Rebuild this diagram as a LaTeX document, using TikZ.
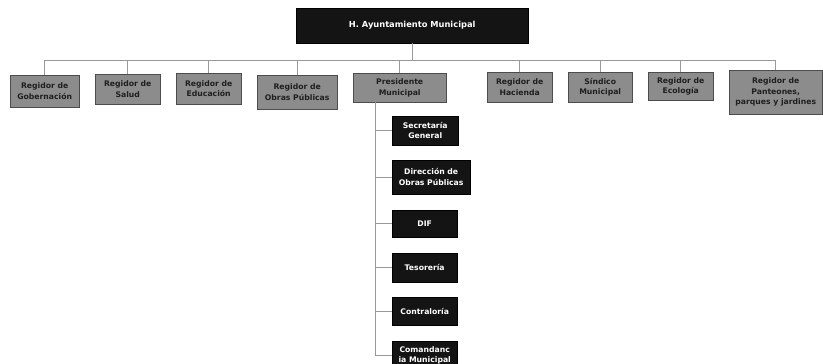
\documentclass[tikz,border=0pt]{standalone}
\usepackage{fontspec}
\setsansfont{DejaVu Sans}
\begin{document}
\begin{tikzpicture}[x=1pt,y=-1pt,
  every node/.style={inner sep=0pt, align=center, font=\sffamily\bfseries\fontsize{7.7}{10.5}\selectfont},
  graybox/.style={draw=gray!60!black, line width=0.4pt, fill=black!45, text=black!88, anchor=north west},
  darkbox/.style={draw=black, fill=black!92, text=white, anchor=north west},
  link/.style={draw=black!40, line width=0.6pt}]
\useasboundingbox (0,0) rectangle (823,364);
\fill[white] (0,0) rectangle (823,364);
% top
\node[darkbox, minimum width=232, minimum height=35, font=\sffamily\bfseries\fontsize{8.3}{10}\selectfont] (top) at (296,8) {H. Ayuntamiento Municipal};
% row
\node[graybox, minimum width=69, minimum height=32] (gob) at (10,75) {Regidor de\\Gobernación};
\node[graybox, minimum width=65, minimum height=30] (sal) at (95,74) {Regidor de\\Salud};
\node[graybox, minimum width=65, minimum height=31] (edu) at (176,73) {Regidor de\\Educación};
\node[graybox, minimum width=80, minimum height=34] (obr) at (257,75) {Regidor de\\Obras Públicas};
\node[graybox, minimum width=93, minimum height=29] (pre) at (353,73) {Presidente\\Municipal};
\node[graybox, minimum width=65, minimum height=30] (hac) at (487,72) {Regidor de\\Hacienda};
\node[graybox, minimum width=64, minimum height=30] (sin) at (568,72) {Síndico\\Municipal};
\node[graybox, minimum width=65, minimum height=28] (eco) at (648,72) {Regidor de\\Ecología};
\node[graybox, minimum width=93, minimum height=44] (pan) at (729,70) {Regidor de\\Panteones,\\parques y jardines};
% column
\node[darkbox, minimum width=66, minimum height=29] (sec) at (392,116) {Secretaría\\General};
\node[darkbox, minimum width=78, minimum height=34] (dir) at (392,160) {Dirección de\\Obras Públicas};
\node[darkbox, minimum width=65, minimum height=27] (dif) at (392,210) {DIF};
\node[darkbox, minimum width=65, minimum height=29] (tes) at (392,253) {Tesorería};
\node[darkbox, minimum width=65, minimum height=28] (con) at (392,297) {Contraloría};
\node[darkbox, minimum width=65, minimum height=28] (com) at (392,341) {Comandanc\\ia Municipal};
% connectors
\coordinate (bus) at (0,60);
\coordinate (spine) at ([xshift=22pt]pre.south west);
\path[link] (top.south) -- (top.south |- bus);
\path[link] (gob.north |- bus) -- (pan.north |- bus);
\foreach \n in {gob,sal,edu,obr,pre,hac,sin,eco,pan}
  \path[link] (\n.north) -- (\n.north |- bus);
\path[link] (spine) -- (spine |- com.west);
\foreach \n in {sec,dir,dif,tes,con,com}
  \path[link] (spine |- \n.west) -- (\n.west);
\end{tikzpicture}
\end{document}
